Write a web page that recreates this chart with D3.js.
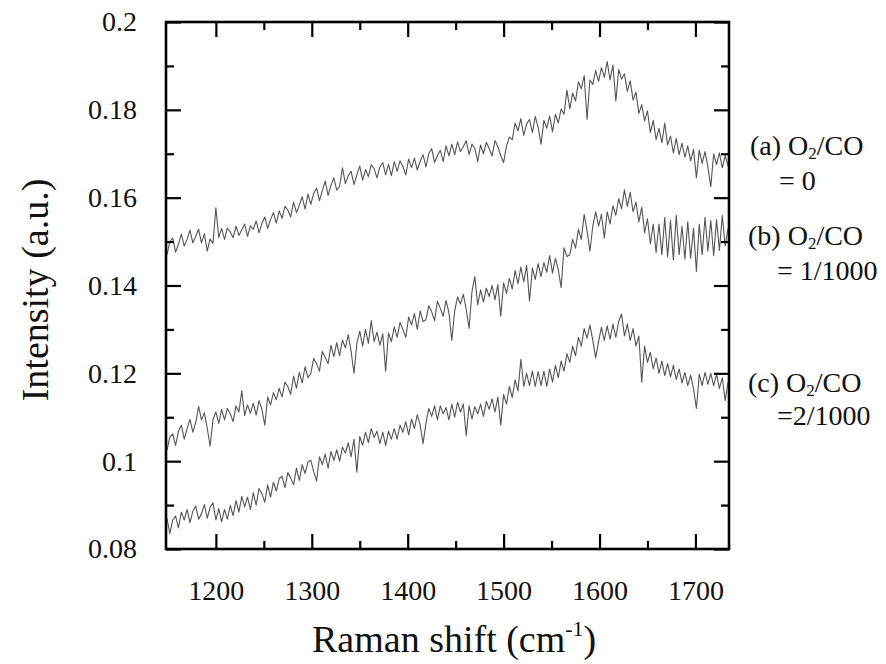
<!DOCTYPE html>
<html>
<head>
<meta charset="utf-8">
<script src="https://cdn.jsdelivr.net/npm/d3@7"></script>
<style>
  html, body { margin: 0; padding: 0; background: #fff; }
  svg text { font-family: "Liberation Serif", "Times New Roman", serif; fill: #111; }
</style>
</head>
<body>
<svg id="chart"></svg>
<script>
// Raman spectra, one point every 3 cm-1 starting at 1149
const ramanStart = 1149;
const ramanStep = 3;

const seriesA = [
  0.1470, 0.1500, 0.1508, 0.1476, 0.1494, 0.1517, 0.1490, 0.1505, 0.1526, 0.1497,
  0.1512, 0.1528, 0.1497, 0.1518, 0.1478, 0.1506, 0.1496, 0.1577, 0.1509, 0.1530,
  0.1505, 0.1531, 0.1522, 0.1509, 0.1535, 0.1514, 0.1527, 0.1540, 0.1512, 0.1536,
  0.1528, 0.1547, 0.1520, 0.1541, 0.1556, 0.1530, 0.1550, 0.1566, 0.1542, 0.1570,
  0.1553, 0.1580, 0.1572, 0.1556, 0.1590, 0.1566, 0.1583, 0.1602, 0.1574, 0.1608,
  0.1585, 0.1610, 0.1622, 0.1593, 0.1616, 0.1638, 0.1605, 0.1628, 0.1645, 0.1617,
  0.1626, 0.1668, 0.1632, 0.1650, 0.1660, 0.1630, 0.1652, 0.1672, 0.1640, 0.1664,
  0.1648, 0.1675, 0.1666, 0.1645, 0.1670, 0.1680, 0.1652, 0.1676, 0.1650, 0.1682,
  0.1660, 0.1684, 0.1671, 0.1652, 0.1688, 0.1668, 0.1690, 0.1663, 0.1683, 0.1698,
  0.1670, 0.1700, 0.1712, 0.1680, 0.1696, 0.1708, 0.1682, 0.1718, 0.1695, 0.1722,
  0.1698, 0.1727, 0.1705, 0.1716, 0.1730, 0.1698, 0.1722, 0.1712, 0.1682, 0.1720,
  0.1700, 0.1726, 0.1712, 0.1695, 0.1730, 0.1716, 0.1696, 0.1680, 0.1718, 0.1738,
  0.1732, 0.1770, 0.1752, 0.1780, 0.1742, 0.1768, 0.1778, 0.1748, 0.1785, 0.1760,
  0.1722, 0.1776, 0.1758, 0.1786, 0.1750, 0.1790, 0.1770, 0.1802, 0.1790, 0.1845,
  0.1802, 0.1838, 0.1820, 0.1864, 0.1848, 0.1878, 0.1778, 0.1868, 0.1858, 0.1890,
  0.1865, 0.1896, 0.1874, 0.1910, 0.1868, 0.1902, 0.1820, 0.1892, 0.1870, 0.1882,
  0.1842, 0.1866, 0.1822, 0.1840, 0.1792, 0.1812, 0.1775, 0.1798, 0.1748, 0.1776,
  0.1732, 0.1758, 0.1725, 0.1770, 0.1720, 0.1740, 0.1702, 0.1735, 0.1698, 0.1724,
  0.1692, 0.1718, 0.1684, 0.1710, 0.1645, 0.1708, 0.1678, 0.1705, 0.1670, 0.1625,
  0.1700, 0.1675, 0.1702, 0.1668, 0.1696, 0.1672
];

const seriesB = [
  0.1025, 0.1055, 0.1062, 0.1036, 0.1068, 0.1082, 0.1050, 0.1074, 0.1095, 0.1066,
  0.1088, 0.1125, 0.1094, 0.1110, 0.1075, 0.1034, 0.1095, 0.1112, 0.1086, 0.1118,
  0.1094, 0.1120, 0.1108, 0.1090, 0.1126, 0.1112, 0.1160, 0.1104, 0.1128, 0.1109,
  0.1132, 0.1105, 0.1138, 0.1118, 0.1082, 0.1146, 0.1128, 0.1156, 0.1140, 0.1166,
  0.1146, 0.1180, 0.1170, 0.1152, 0.1194, 0.1166, 0.1202, 0.1178, 0.1215, 0.1190,
  0.1200, 0.1234, 0.1222, 0.1205, 0.1250, 0.1236, 0.1222, 0.1264, 0.1238, 0.1270,
  0.1240, 0.1276, 0.1258, 0.1288, 0.1250, 0.1200, 0.1268, 0.1296, 0.1262, 0.1300,
  0.1268, 0.1320, 0.1272, 0.1294, 0.1264, 0.1290, 0.1205, 0.1292, 0.1272, 0.1306,
  0.1282, 0.1316, 0.1300, 0.1282, 0.1328, 0.1310, 0.1336, 0.1300, 0.1342, 0.1318,
  0.1322, 0.1354, 0.1340, 0.1320, 0.1364, 0.1348, 0.1330, 0.1366, 0.1338, 0.1275,
  0.1342, 0.1374, 0.1358, 0.1380, 0.1346, 0.1302, 0.1386, 0.1420, 0.1356, 0.1390,
  0.1362, 0.1394, 0.1375, 0.1400, 0.1368, 0.1402, 0.1330, 0.1406, 0.1382, 0.1416,
  0.1392, 0.1434, 0.1404, 0.1442, 0.1408, 0.1446, 0.1365, 0.1440, 0.1414, 0.1450,
  0.1420, 0.1452, 0.1430, 0.1468, 0.1428, 0.1462, 0.1436, 0.1395, 0.1486, 0.1466,
  0.1470, 0.1505, 0.1485, 0.1528, 0.1505, 0.1562, 0.1525, 0.1478, 0.1535, 0.1568,
  0.1535, 0.1562, 0.1508, 0.1568, 0.1540, 0.1582, 0.1560, 0.1598, 0.1575, 0.1618,
  0.1580, 0.1612, 0.1568, 0.1590, 0.1545, 0.1578, 0.1520, 0.1552, 0.1495, 0.1540,
  0.1475, 0.1540, 0.1470, 0.1555, 0.1465, 0.1548, 0.1458, 0.1560, 0.1470, 0.1535,
  0.1460, 0.1545, 0.1462, 0.1530, 0.1432, 0.1540, 0.1470, 0.1555, 0.1478, 0.1548,
  0.1468, 0.1550, 0.1480, 0.1560, 0.1490, 0.1530
];

const seriesC = [
  0.0870, 0.0835, 0.0866, 0.0875, 0.0848, 0.0884, 0.0866, 0.0890, 0.0860, 0.0886,
  0.0898, 0.0868, 0.0880, 0.0901, 0.0870, 0.0895, 0.0905, 0.0866, 0.0892, 0.0862,
  0.0890, 0.0868, 0.0899, 0.0876, 0.0910, 0.0884, 0.0920, 0.0896, 0.0918, 0.0890,
  0.0928, 0.0900, 0.0938, 0.0926, 0.0906, 0.0946, 0.0918, 0.0952, 0.0932, 0.0960,
  0.0966, 0.0940, 0.0974, 0.0962, 0.0946, 0.0984, 0.0956, 0.0992, 0.0972, 0.0998,
  0.1002, 0.0976, 0.0955, 0.1010, 0.0992, 0.1016, 0.0984, 0.1022, 0.1002, 0.1026,
  0.1000, 0.1032, 0.1018, 0.1042, 0.1010, 0.1050, 0.0975, 0.1056, 0.1036, 0.1066,
  0.1042, 0.1074, 0.1054, 0.1068, 0.1040, 0.1066, 0.1036, 0.1068, 0.1050, 0.1074,
  0.1050, 0.1082, 0.1066, 0.1090, 0.1060, 0.1096, 0.1074, 0.1106, 0.1082, 0.1040,
  0.1086, 0.1120, 0.1102, 0.1126, 0.1094, 0.1126, 0.1108, 0.1122, 0.1094, 0.1130,
  0.1100, 0.1134, 0.1112, 0.1130, 0.1058, 0.1126, 0.1096, 0.1124, 0.1108, 0.1130,
  0.1102, 0.1136, 0.1118, 0.1142, 0.1112, 0.1146, 0.1082, 0.1152, 0.1130, 0.1170,
  0.1145, 0.1185, 0.1160, 0.1232, 0.1170, 0.1200, 0.1172, 0.1205, 0.1170, 0.1204,
  0.1172, 0.1205, 0.1170, 0.1210, 0.1180, 0.1218, 0.1190, 0.1228, 0.1205, 0.1245,
  0.1225, 0.1262, 0.1240, 0.1282, 0.1262, 0.1302, 0.1280, 0.1310, 0.1275, 0.1235,
  0.1272, 0.1305, 0.1275, 0.1308, 0.1278, 0.1312, 0.1282, 0.1318, 0.1335, 0.1285,
  0.1312, 0.1275, 0.1302, 0.1262, 0.1285, 0.1180, 0.1262, 0.1225, 0.1248, 0.1210,
  0.1235, 0.1200, 0.1228, 0.1195, 0.1222, 0.1192, 0.1218, 0.1186, 0.1210, 0.1178,
  0.1202, 0.1172, 0.1196, 0.1165, 0.1120, 0.1198, 0.1172, 0.1202, 0.1175, 0.1200,
  0.1172, 0.1198, 0.1165, 0.1190, 0.1138, 0.1180
];

const xMajorTicks = [1200, 1300, 1400, 1500, 1600, 1700];
const xMinorTicks = [1250, 1350, 1450, 1550, 1650];
const yMajorTicks = [0.08, 0.10, 0.12, 0.14, 0.16, 0.18, 0.20];
const yMinorTicks = [0.09, 0.11, 0.13, 0.15, 0.17, 0.19];

const labelLines = [
  { first: ['(a) O', '/CO'], second: '= 0' },
  { first: ['(b) O', '/CO'], second: '= 1/1000' },
  { first: ['(c) O', '/CO'], second: '=2/1000' }
];

const serif = '"Liberation Serif", "Times New Roman", serif';

const svg = d3.select('#chart')
  .attr('width', 886)
  .attr('height', 664);

const margin = { top: 22, right: 157, bottom: 115, left: 166 };
const width = 886 - margin.left - margin.right;
const height = 664 - margin.top - margin.bottom;

const g = svg.append('g').attr('transform', `translate(${margin.left},${margin.top})`);

const x = d3.scaleLinear().domain([1148, 1735]).range([0, width]);
const y = d3.scaleLinear().domain([0.08, 0.2]).range([height, 0]);

const majorLen = 15, minorLen = 8;

// curves
const line = d3.line()
  .x((d, i) => x(ramanStart + i * ramanStep))
  .y(d => y(d));

[seriesA, seriesB, seriesC].forEach(s => {
  g.append('path')
    .datum(s)
    .attr('fill', 'none')
    .attr('stroke', '#555')
    .attr('stroke-width', 1.1)
    .attr('stroke-linejoin', 'round')
    .attr('d', line);
});

// axes, ticks pointing inward
function styleAxis(sel) {
  sel.select('.domain').remove();
  sel.attr('font-family', serif);
  sel.selectAll('.tick line').attr('stroke', '#000').attr('stroke-width', 2.2);
}

g.append('g')
  .attr('transform', `translate(0,${height})`)
  .call(d3.axisBottom(x).tickValues(xMajorTicks).tickSize(-majorLen).tickFormat(d3.format('d')))
  .call(styleAxis)
  .call(a => a.selectAll('text').attr('dy', null).attr('y', 51).attr('font-size', 28).attr('font-family', serif));

g.append('g')
  .attr('transform', `translate(0,${height})`)
  .call(d3.axisBottom(x).tickValues(xMinorTicks).tickSize(-minorLen).tickFormat(''))
  .call(styleAxis);

g.append('g')
  .call(d3.axisTop(x).tickValues(xMajorTicks).tickSize(-majorLen).tickFormat(''))
  .call(styleAxis);

g.append('g')
  .call(d3.axisTop(x).tickValues(xMinorTicks).tickSize(-minorLen).tickFormat(''))
  .call(styleAxis);

g.append('g')
  .call(d3.axisLeft(y).tickValues(yMajorTicks).tickSize(-majorLen).tickPadding(29)
    .tickFormat(d => String(+d.toFixed(2))))
  .call(styleAxis)
  .call(a => a.selectAll('text').attr('font-size', 28).attr('font-family', serif));

g.append('g')
  .call(d3.axisLeft(y).tickValues(yMinorTicks).tickSize(-minorLen).tickFormat(''))
  .call(styleAxis);

g.append('g')
  .attr('transform', `translate(${width},0)`)
  .call(d3.axisRight(y).tickValues(yMajorTicks).tickSize(-majorLen).tickFormat(''))
  .call(styleAxis);

g.append('g')
  .attr('transform', `translate(${width},0)`)
  .call(d3.axisRight(y).tickValues(yMinorTicks).tickSize(-minorLen).tickFormat(''))
  .call(styleAxis);

// frame
g.append('rect')
  .attr('width', width)
  .attr('height', height)
  .attr('fill', 'none')
  .attr('stroke', '#000')
  .attr('stroke-width', 2.6);

// axis titles
const xt = svg.append('text')
  .attr('x', 312)
  .attr('y', 652)
  .attr('font-family', serif)
  .attr('font-size', 38);
xt.append('tspan').text('Raman shift (cm');
xt.append('tspan').attr('font-size', 22).attr('dy', -16).text('-1');
xt.append('tspan').attr('dy', 16).text(')');

svg.append('text')
  .attr('transform', 'translate(48,290) rotate(-90)')
  .attr('text-anchor', 'middle')
  .attr('font-family', serif)
  .attr('font-size', 38)
  .text('Intensity (a.u.)');

// series labels on the right
const labelPos = [
  { x1: 750, y1: 155, x2: 779, y2: 190 },
  { x1: 748, y1: 245, x2: 777, y2: 280 },
  { x1: 748, y1: 392, x2: 777, y2: 425 }
];

labelLines.forEach((l, i) => {
  const p = labelPos[i];
  const t = svg.append('text').attr('x', p.x1).attr('y', p.y1)
    .attr('font-family', serif).attr('font-size', 28);
  t.append('tspan').text(l.first[0]);
  t.append('tspan').attr('font-size', 17).attr('dy', 4).text('2');
  t.append('tspan').attr('dy', -4).text(l.first[1]);
  svg.append('text').attr('x', p.x2).attr('y', p.y2)
    .attr('font-family', serif).attr('font-size', 28).text(l.second);
});
</script>
</body>
</html>
